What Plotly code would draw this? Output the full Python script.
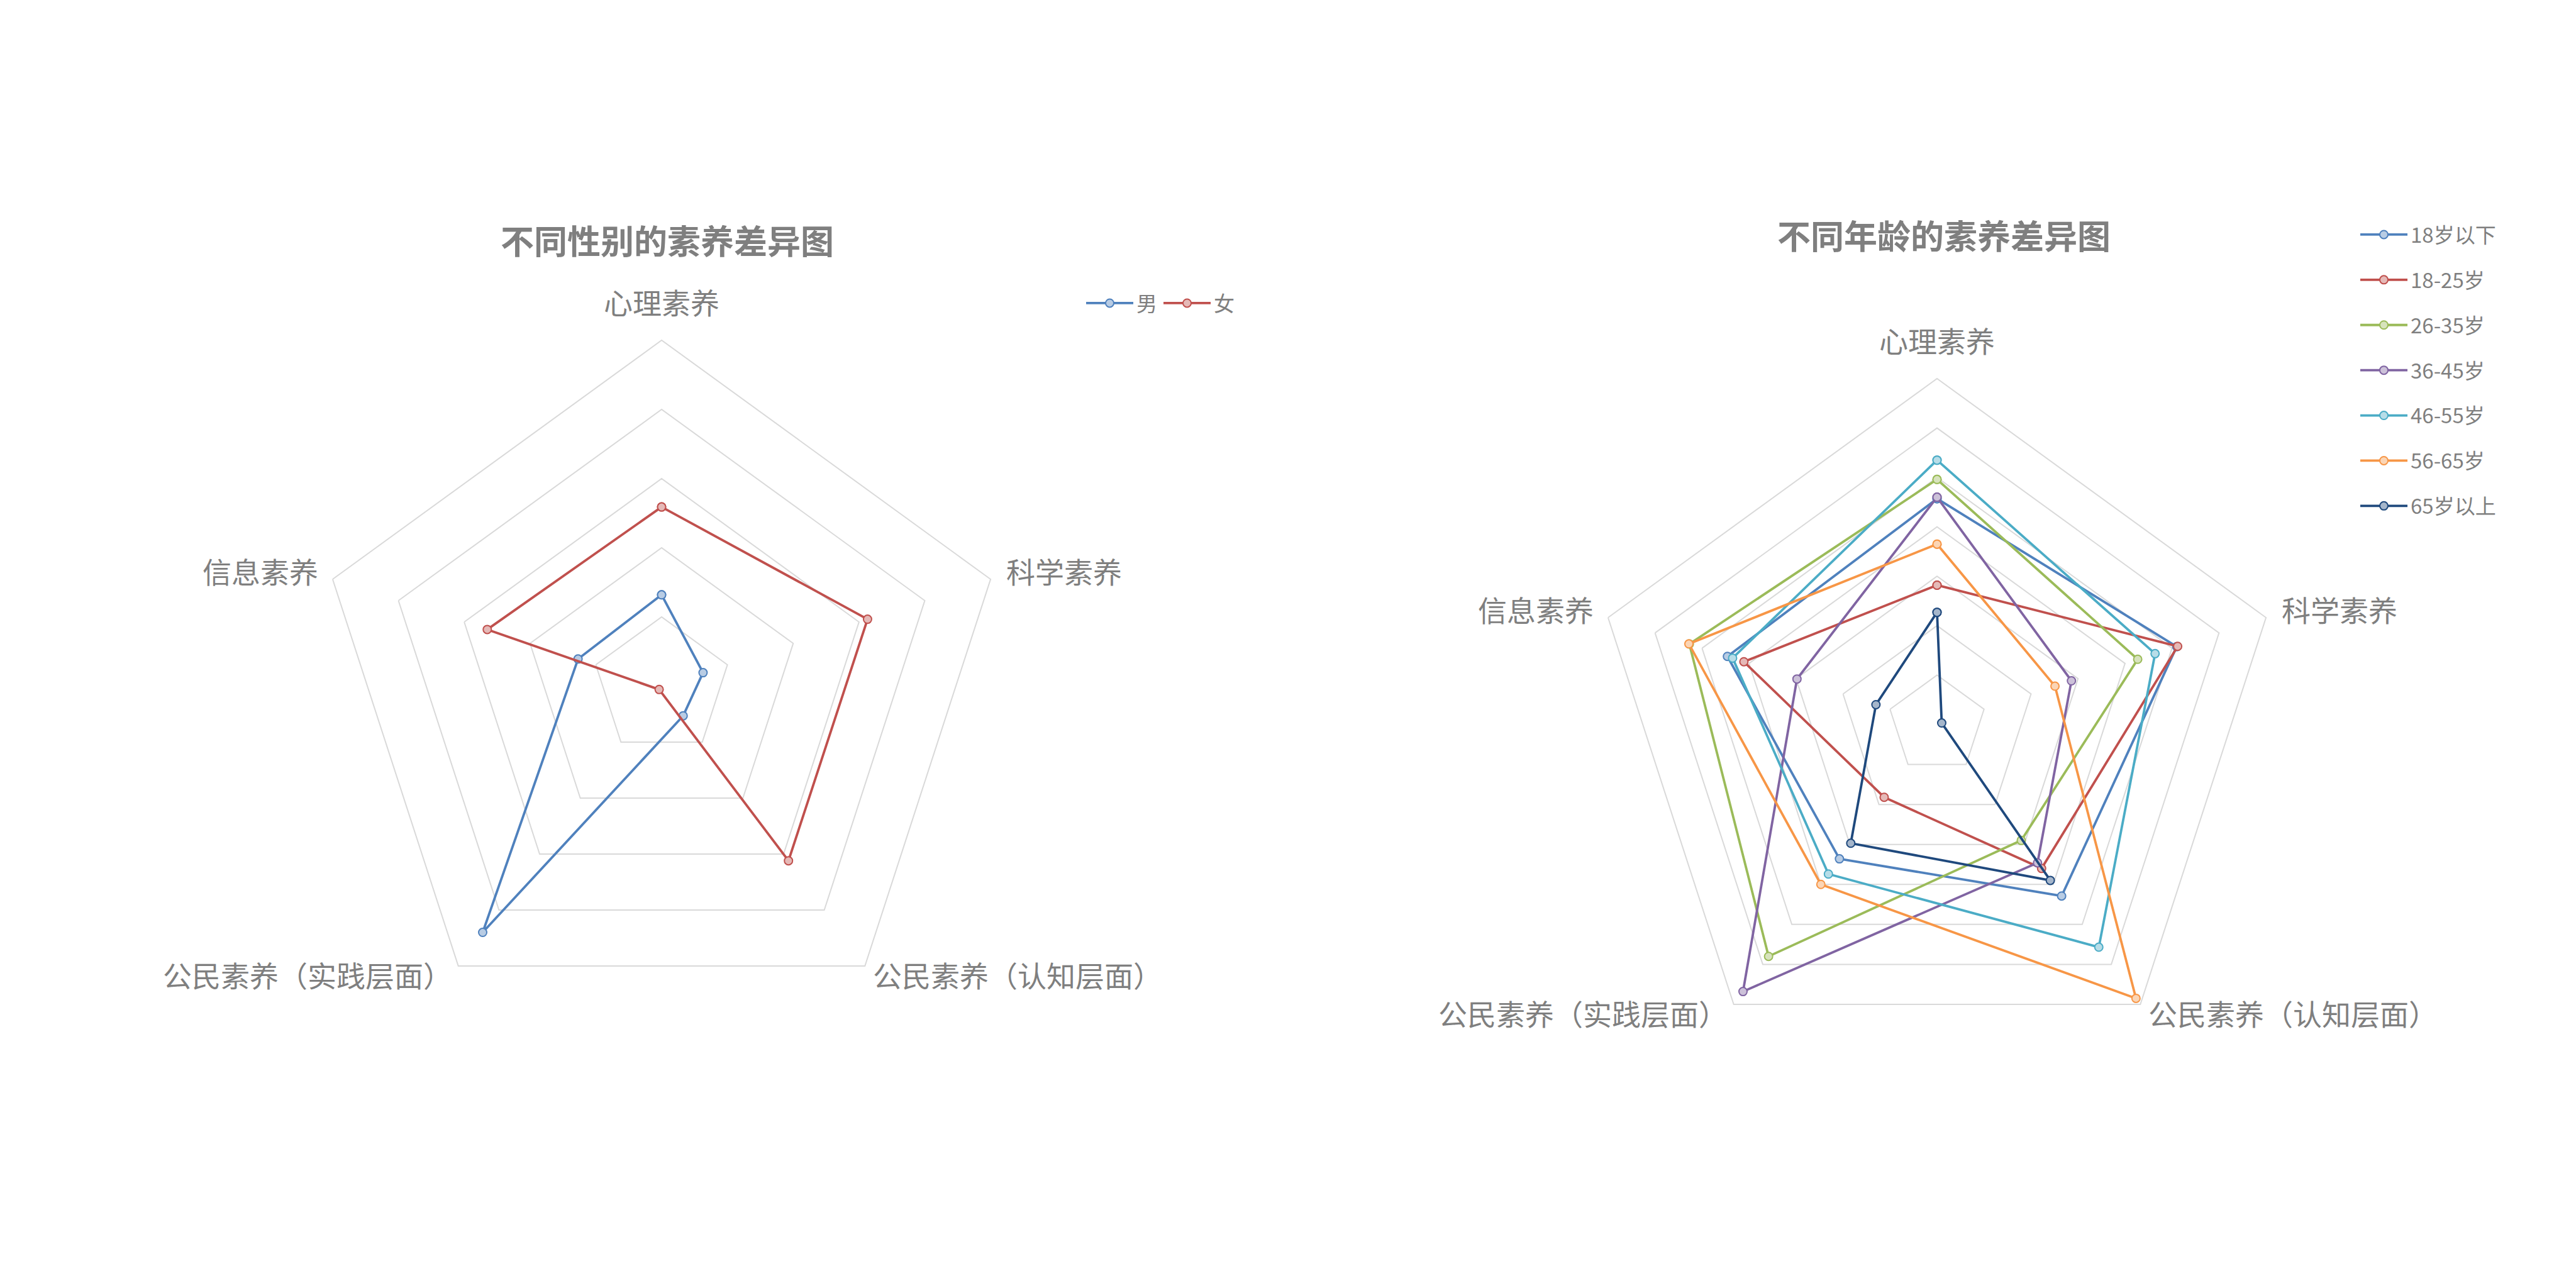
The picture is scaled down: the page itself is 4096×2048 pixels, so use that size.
import plotly.graph_objects as go

# ---------------- data ----------------
axes_labels = ["心理素养", "科学素养", "公民素养（认知层面）", "公民素养（实践层面）", "信息素养"]

gender_names = ["男", "女"]
gender_male = [1.32, 0.63, 0.53, 4.40, 1.27]
gender_female = [2.59, 3.13, 3.12, 0.06, 2.65]

age_names = ["18岁以下", "18-25岁", "26-35岁", "36-45岁", "46-55岁", "56-65岁", "65岁以上"]
age_under18 = [4.57, 5.10, 4.29, 3.36, 4.46]
age_18_25 = [2.82, 5.12, 3.60, 1.82, 4.11]
age_26_35 = [4.96, 4.27, 2.90, 5.80, 5.27]
age_36_45 = [4.60, 2.86, 3.46, 6.68, 2.98]
age_46_55 = [5.35, 4.64, 5.57, 3.74, 4.35]
age_56_65 = [3.65, 2.51, 6.85, 4.00, 5.28]
age_over65 = [2.27, 0.10, 3.90, 2.97, 1.30]

title_left = "不同性别的素养差异图"
title_right = "不同年龄的素养差异图"

# ---------------- styles ----------------
W, H = 4096, 2048
FONT = "Noto Sans CJK SC"
TXT = "#7f7f7f"
GRID = "#d9d9d9"
colors_gender = ["#4F81BD", "#C0504D"]
colors_age = ["#4F81BD", "#C0504D", "#9BBB59", "#8064A2", "#4BACC6", "#F79646", "#1F497D"]


def tint(hex_color, f=0.6):
    h = hex_color.lstrip("#")
    r, g, b = (int(h[i:i + 2], 16) for i in (0, 2, 4))
    r = int(r + (255 - r) * f)
    g = int(g + (255 - g) * f)
    b = int(b + (255 - b) * f)
    return f"rgb({r},{g},{b})"


def closed(vals):
    return list(vals) + [vals[0]]


fig = go.Figure()

gender_series = [gender_male, gender_female]
for name, vals, col in zip(gender_names, gender_series, colors_gender):
    fig.add_trace(go.Scatterpolar(
        r=closed(vals), theta=closed(axes_labels), name=name,
        mode="lines+markers", subplot="polar", legend="legend",
        line=dict(color=col, width=3.8),
        marker=dict(size=13, color=tint(col), line=dict(color=col, width=2)),
    ))

age_series = [age_under18, age_18_25, age_26_35, age_36_45, age_46_55, age_56_65, age_over65]
for name, vals, col in zip(age_names, age_series, colors_age):
    fig.add_trace(go.Scatterpolar(
        r=closed(vals), theta=closed(axes_labels), name=name,
        mode="lines+markers", subplot="polar2", legend="legend2", legendgroup=name,
        line=dict(color=col, width=3.8),
        marker=dict(size=13, color=tint(col), line=dict(color=col, width=2)),
    ))


def polar(dx, dy, rmax):
    return dict(
        domain=dict(x=dx, y=dy),
        gridshape="linear",
        bgcolor="white",
        radialaxis=dict(range=[0, rmax], dtick=1, showticklabels=False, ticks="",
                        showline=False, gridcolor=GRID, gridwidth=2),
        angularaxis=dict(direction="clockwise", rotation=90, showgrid=False,
                         showline=True, linecolor=GRID, linewidth=2, ticks="",
                         showticklabels=False,
                         categoryorder="array", categoryarray=axes_labels),
    )


def dom(cx, cy, R):
    return [(cx - R) / W, (cx + R) / W], [(H - cy - R) / H, (H - cy + R) / H]


centres = [(1052, 1091), (3080, 1152)]
RAD = 550
lx, ly = dom(*centres[0], RAD)
rx, ry = dom(*centres[1], RAD)

# label offsets from the centre (output px), in axes_labels order
label_off = [(0, -612), (640, -184), (566, 458), (-563, 458), (-638, -184)]

annotations = []
for (cx, cy) in centres:
    for lab, (ox, oy) in zip(axes_labels, label_off):
        annotations.append(dict(
            text=lab, x=(cx + ox) / W, y=1 - (cy + oy) / H, xref="paper", yref="paper",
            showarrow=False, xanchor="center", yanchor="middle",
            font=dict(family=FONT, size=46, color=TXT)))

annotations += [
    dict(text=title_left, x=1061 / W, y=1 - 381 / H, xref="paper", yref="paper",
         showarrow=False, xanchor="center", yanchor="middle",
         font=dict(family=FONT, size=53, color=TXT, weight="bold")),
    dict(text=title_right, x=3091 / W, y=1 - 373 / H, xref="paper", yref="paper",
         showarrow=False, xanchor="center", yanchor="middle",
         font=dict(family=FONT, size=53, color=TXT, weight="bold")),
]

fig.update_layout(
    width=W, height=H,
    margin=dict(l=0, r=0, t=0, b=0),
    paper_bgcolor="white",
    font=dict(family=FONT, color=TXT),
    polar=polar(lx, ly, 5),
    polar2=polar(rx, ry, 7),
    legend=dict(orientation="h", x=1722 / W, y=1 - 482 / H, xanchor="left", yanchor="middle",
                font=dict(family=FONT, size=33, color=TXT), itemwidth=75,
                bgcolor="rgba(0,0,0,0)"),
    legend2=dict(orientation="v", x=3748 / W, y=1 - 345 / H, xanchor="left", yanchor="top",
                 font=dict(family=FONT, size=33, color=TXT), itemwidth=75,
                 tracegroupgap=26, bgcolor="rgba(0,0,0,0)"),
    annotations=annotations,
)

fig.write_html("out.html")
